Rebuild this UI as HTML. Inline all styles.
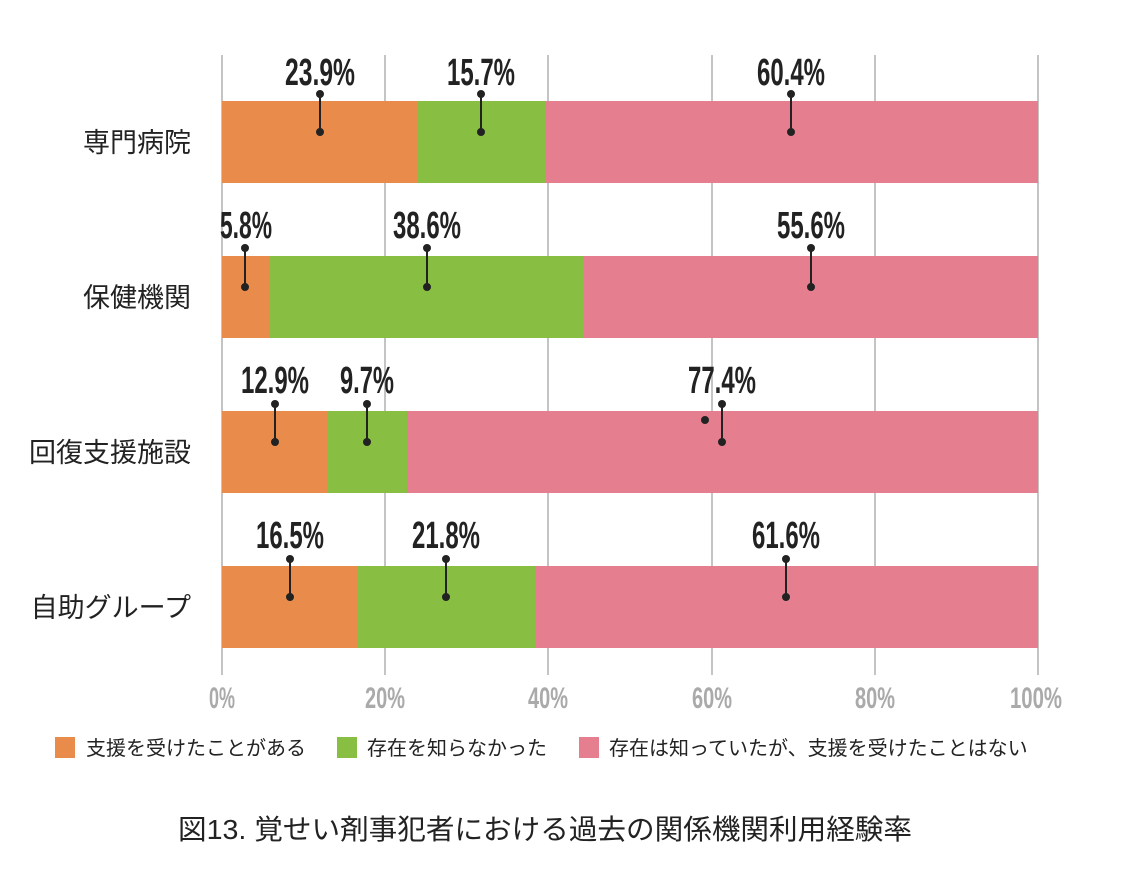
<!DOCTYPE html><html><head><meta charset="utf-8"><style>body{margin:0;background:#fff}</style></head><body>
<svg width="1125" height="868" viewBox="0 0 1125 868" xmlns="http://www.w3.org/2000/svg">
<g stroke="#c4c4c4" stroke-width="2">
<line x1="222" y1="55" x2="222" y2="675"/><line x1="385" y1="55" x2="385" y2="675"/><line x1="548" y1="55" x2="548" y2="675"/><line x1="712" y1="55" x2="712" y2="675"/><line x1="875" y1="55" x2="875" y2="675"/><line x1="1038" y1="55" x2="1038" y2="675"/>
</g>
<g>
<rect x="222" y="101" width="195" height="82" fill="#E98C4B"/><rect x="417" y="101" width="128" height="82" fill="#88BF42"/><rect x="545" y="101" width="493" height="82" fill="#E57F90"/>
<rect x="222" y="256" width="47" height="82" fill="#E98C4B"/><rect x="269" y="256" width="315" height="82" fill="#88BF42"/><rect x="584" y="256" width="454" height="82" fill="#E57F90"/>
<rect x="222" y="411" width="106" height="82" fill="#E98C4B"/><rect x="328" y="411" width="79" height="82" fill="#88BF42"/><rect x="407" y="411" width="631" height="82" fill="#E57F90"/>
<rect x="222" y="566" width="135" height="82" fill="#E98C4B"/><rect x="357" y="566" width="178" height="82" fill="#88BF42"/><rect x="535" y="566" width="503" height="82" fill="#E57F90"/>
</g>
<g stroke="#222" stroke-width="2" fill="#222">
<line x1="320" y1="94" x2="320" y2="132"/><circle cx="320" cy="94" r="3"/><circle cx="320" cy="132" r="3"/>
<line x1="481" y1="94" x2="481" y2="132"/><circle cx="481" cy="94" r="3"/><circle cx="481" cy="132" r="3"/>
<line x1="791" y1="94" x2="791" y2="132"/><circle cx="791" cy="94" r="3"/><circle cx="791" cy="132" r="3"/>
<line x1="245" y1="248" x2="245" y2="287"/><circle cx="245" cy="248" r="3"/><circle cx="245" cy="287" r="3"/>
<line x1="427" y1="248" x2="427" y2="287"/><circle cx="427" cy="248" r="3"/><circle cx="427" cy="287" r="3"/>
<line x1="811" y1="248" x2="811" y2="287"/><circle cx="811" cy="248" r="3"/><circle cx="811" cy="287" r="3"/>
<line x1="275" y1="404" x2="275" y2="442"/><circle cx="275" cy="404" r="3"/><circle cx="275" cy="442" r="3"/>
<line x1="367" y1="404" x2="367" y2="442"/><circle cx="367" cy="404" r="3"/><circle cx="367" cy="442" r="3"/>
<line x1="722" y1="404" x2="722" y2="442"/><circle cx="722" cy="404" r="3"/><circle cx="722" cy="442" r="3"/><circle cx="705" cy="420" r="3"/>
<line x1="290" y1="559" x2="290" y2="597"/><circle cx="290" cy="559" r="3"/><circle cx="290" cy="597" r="3"/>
<line x1="446" y1="559" x2="446" y2="597"/><circle cx="446" cy="559" r="3"/><circle cx="446" cy="597" r="3"/>
<line x1="786" y1="559" x2="786" y2="597"/><circle cx="786" cy="559" r="3"/><circle cx="786" cy="597" r="3"/>
</g>
<g font-family="Liberation Sans Narrow, Liberation Sans, sans-serif" font-weight="bold" font-size="38" fill="#222" text-anchor="middle">
<text x="320" y="85" textLength="70" lengthAdjust="spacingAndGlyphs">23.9%</text>
<text x="481" y="85" textLength="68" lengthAdjust="spacingAndGlyphs">15.7%</text>
<text x="791" y="85" textLength="68" lengthAdjust="spacingAndGlyphs">60.4%</text>
<text x="246" y="238" textLength="52" lengthAdjust="spacingAndGlyphs">5.8%</text>
<text x="427" y="238" textLength="68" lengthAdjust="spacingAndGlyphs">38.6%</text>
<text x="811" y="238" textLength="68" lengthAdjust="spacingAndGlyphs">55.6%</text>
<text x="275" y="393" textLength="68" lengthAdjust="spacingAndGlyphs">12.9%</text>
<text x="367" y="393" textLength="54" lengthAdjust="spacingAndGlyphs">9.7%</text>
<text x="722" y="393" textLength="68" lengthAdjust="spacingAndGlyphs">77.4%</text>
<text x="290" y="548" textLength="68" lengthAdjust="spacingAndGlyphs">16.5%</text>
<text x="446" y="548" textLength="68" lengthAdjust="spacingAndGlyphs">21.8%</text>
<text x="786" y="548" textLength="68" lengthAdjust="spacingAndGlyphs">61.6%</text>
</g>
<g font-family="Liberation Sans Narrow, Liberation Sans, sans-serif" font-weight="bold" font-size="30" fill="#aaa" text-anchor="middle">
<text x="222" y="708" textLength="26" lengthAdjust="spacingAndGlyphs">0%</text>
<text x="385" y="708" textLength="40" lengthAdjust="spacingAndGlyphs">20%</text>
<text x="548" y="708" textLength="40" lengthAdjust="spacingAndGlyphs">40%</text>
<text x="712" y="708" textLength="40" lengthAdjust="spacingAndGlyphs">60%</text>
<text x="875" y="708" textLength="40" lengthAdjust="spacingAndGlyphs">80%</text>
<text x="1036" y="708" textLength="52" lengthAdjust="spacingAndGlyphs">100%</text>
</g>
<g font-family="Liberation Sans, Noto Sans CJK JP, sans-serif" font-size="27" fill="#222" text-anchor="end">
<text x="191" y="152">専門病院</text>
<text x="191" y="307">保健機関</text>
<text x="191" y="462">回復支援施設</text>
<text x="191" y="617">自助グループ</text>
</g>
<g font-family="Liberation Sans, Noto Sans CJK JP, sans-serif" font-size="20" fill="#222">
<rect x="55" y="737" width="20" height="21" fill="#E98C4B"/><text x="86" y="755">支援を受けたことがある</text>
<rect x="337" y="737" width="20" height="21" fill="#88BF42"/><text x="367" y="755">存在を知らなかった</text>
<rect x="579" y="737" width="20" height="21" fill="#E57F90"/><text x="609" y="755">存在は知っていたが、支援を受けたことはない</text>
</g>
<text x="545" y="839" text-anchor="middle" font-family="Liberation Sans, Noto Sans CJK JP, sans-serif" font-size="28" fill="#222" textLength="734" lengthAdjust="spacingAndGlyphs">図13. 覚せい剤事犯者における過去の関係機関利用経験率</text>
</svg>
</body></html>
